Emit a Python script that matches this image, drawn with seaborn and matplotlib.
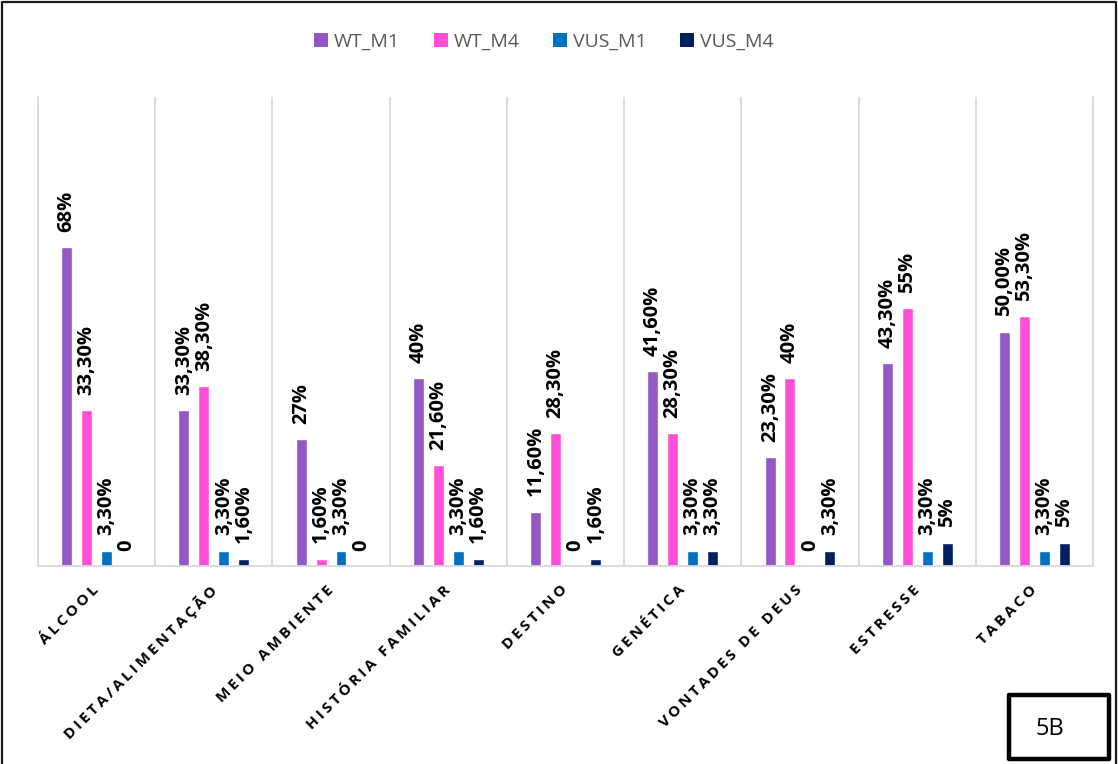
import matplotlib
matplotlib.use("Agg")
import matplotlib.pyplot as plt
import matplotlib.transforms as mtransforms
import pandas as pd
import seaborn as sns
from matplotlib.patches import Patch, Rectangle
from matplotlib.lines import Line2D

# Categories and series
categories = ["ÁLCOOL", "DIETA/ALIMENTAÇÃO", "MEIO AMBIENTE", "HISTÓRIA FAMILIAR",
              "DESTINO", "GENÉTICA", "VONTADES DE DEUS", "ESTRESSE", "TABACO"]
series = ["WT_M1", "WT_M4", "VUS_M1", "VUS_M4"]

# Percentages per series
wt_m1 = [68, 33.3, 27, 40, 11.6, 41.6, 23.3, 43.3, 50.0]
wt_m4 = [33.3, 38.3, 1.6, 21.6, 28.3, 28.3, 40, 55, 53.3]
vus_m1 = [3.3, 3.3, 3.3, 3.3, 0, 3.3, 0, 3.3, 3.3]
vus_m4 = [0, 1.6, 0, 1.6, 1.6, 3.3, 3.3, 5, 5]

# Data label texts
wt_m1_labels = ["68%", "33,30%", "27%", "40%", "11,60%", "41,60%", "23,30%", "43,30%", "50,00%"]
wt_m4_labels = ["33,30%", "38,30%", "1,60%", "21,60%", "28,30%", "28,30%", "40%", "55%", "53,30%"]
vus_m1_labels = ["3,30%", "3,30%", "3,30%", "3,30%", "0", "3,30%", "0", "3,30%", "3,30%"]
vus_m4_labels = ["0", "1,60%", "0", "1,60%", "1,60%", "3,30%", "3,30%", "5%", "5%"]

colors = ["#9457C6", "#FF4FD8", "#0070C0", "#002060"]

values = [wt_m1, wt_m4, vus_m1, vus_m4]
label_sets = [wt_m1_labels, wt_m4_labels, vus_m1_labels, vus_m4_labels]

df = pd.DataFrame({
    "Categoria": [c for _ in series for c in categories],
    "Série": [s for s in series for _ in categories],
    "Valor": [v for vals in values for v in vals],
})

sns.set_theme(style="white")
plt.rcParams["font.family"] = ["Open Sans", "DejaVu Sans"]

fig = plt.figure(figsize=(11.18, 7.64), dpi=100)
ax = fig.add_axes([0.034, 0.259, 0.9436, 0.614])

sns.barplot(data=df, x="Categoria", y="Valor", hue="Série", order=categories,
            hue_order=series, palette=colors, saturation=1, width=0.68, gap=0.45,
            legend=False, ax=ax)

for container, labs in zip(ax.containers, label_sets):
    ax.bar_label(container, labels=labs, padding=11, rotation=90,
                 fontsize=14.5, fontweight="bold", color="black")

ax.set_ylim(0, 100)
ax.set_xlim(-0.5, len(categories) - 0.5)
ax.set_yticks([])
ax.set_xlabel("")
ax.set_ylabel("")

# Category separators
ax.set_xticks([i + 0.5 for i in range(-1, len(categories))], minor=True)
ax.grid(which="minor", axis="x", color="#D9D9D9", linewidth=1.3)
ax.grid(which="major", axis="x", visible=False)
ax.tick_params(axis="x", which="both", length=0)

ax.spines["top"].set_visible(False)
for side in ["left", "right", "bottom"]:
    ax.spines[side].set_color("#D9D9D9")
    ax.spines[side].set_linewidth(1.3)

# Letter-spaced category labels
spaced = ["\u2009".join(c) for c in categories]
ax.set_xticks(range(len(categories)))
ax.set_xticklabels(spaced, rotation=45, ha="right", rotation_mode="anchor",
                   fontsize=11, fontweight="bold", color="black")
ax.tick_params(axis="x", which="major", pad=12)
shift = mtransforms.ScaledTranslation(-5 / 100, 0, fig.dpi_scale_trans)
for lab in ax.get_xticklabels():
    lab.set_transform(lab.get_transform() + shift)

handles = [Patch(facecolor=c, edgecolor="none") for c in colors]
fig.legend(handles, series, loc="center", bbox_to_anchor=(544 / 1118, 1 - 42 / 764),
           ncol=4, frameon=False, fontsize=14, handlelength=0.7, handleheight=0.7,
           handletextpad=0.3, columnspacing=1.75, labelcolor="#595959")

# Outer frame
fig.add_artist(Line2D([0.0015, 0.0015, 0.998, 0.998], [0.0, 0.998, 0.998, 0.0],
                      transform=fig.transFigure, color="#1a1a1a", linewidth=1.6))

# Panel tag
fig.add_artist(Rectangle((1009 / 1118, 1 - 759 / 764), 100 / 1118, 64 / 764,
                         transform=fig.transFigure, fill=False, edgecolor="black",
                         linewidth=3.2, joinstyle="round"))
fig.text(1050 / 1118, 1 - 729 / 764, "5B", fontsize=17, ha="center", va="center",
         color="black")

fig.savefig("out.png", dpi=100)
